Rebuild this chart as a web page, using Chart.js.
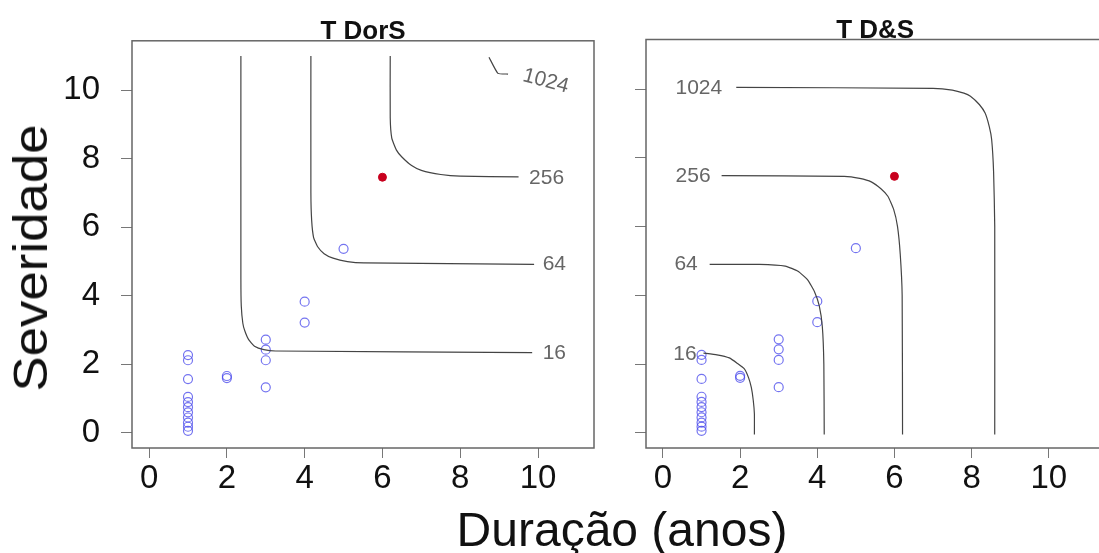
<!DOCTYPE html>
<html>
<head>
<meta charset="utf-8">
<script src="https://cdn.jsdelivr.net/npm/chart.js@4.4.1/dist/chart.umd.min.js"></script>
<style>
  html, body { margin: 0; padding: 0; background: #fff; overflow: hidden; }
  #wrap { position: relative; width: 1099px; height: 553px; overflow: hidden; font-family: "Liberation Sans", Arial, sans-serif; }
  #left { position: absolute; left: 0; top: 0; }
  #right { position: absolute; left: 600px; top: 0; }
  .ytitle { position: absolute; left: 31px; top: 258px; font-size: 48px; line-height: 1; color: #111; white-space: nowrap;
            transform: translate(-50%, -50%) rotate(-90deg) scaleX(1.1); }
  .xtitle { position: absolute; left: 622px; top: 506px; font-size: 48px; line-height: 1; color: #111; white-space: nowrap;
            transform: translateX(-50%); }
</style>
</head>
<body>
<div id="wrap">
  <canvas id="left" width="600" height="553"></canvas>
  <canvas id="right" width="510" height="553"></canvas>
  <div class="ytitle">Severidade</div>
  <div class="xtitle">Duração (anos)</div>
</div>
<script>
// observed points (duration in years, severity)
const durations = [1, 1, 1, 1, 1, 1, 1, 1, 1, 1, 1, 2, 2, 3, 3, 3, 3, 4, 4, 5];
const severities = [2.27, 2.12, 1.57, 1.05, 0.9, 0.75, 0.6, 0.45, 0.3, 0.18, 0.06, 1.66, 1.6, 2.72, 2.43, 2.12, 1.33, 3.83, 3.22, 5.37];
const eventX = [6];
const eventY = [7.46];

const tickValues = [0, 2, 4, 6, 8, 10];

// contours of "T DorS" (left panel)
const dors16 = [[2.36, 11], [2.36, 4.5], [2.37, 3.7], [2.41, 3.2], [2.46, 2.98], [2.56, 2.72], [2.71, 2.53], [2.95, 2.43], [3.25, 2.39], [9.85, 2.34]];
const dors64 = [[4.16, 11], [4.16, 7], [4.18, 6.2], [4.23, 5.7], [4.33, 5.44], [4.5, 5.23], [4.73, 5.1], [5.1, 5.0], [5.52, 4.96], [9.9, 4.92]];
const dors256 = [[6.2, 11], [6.2, 9.2], [6.24, 8.6], [6.36, 8.25], [6.5, 8.05], [6.75, 7.8], [7.0, 7.66], [7.5, 7.54], [8.0, 7.49], [9.5, 7.47]];
const dors1024 = [[8.74, 10.96], [8.97, 10.49], [9.23, 10.47]];
const dorsLabels = ['16', '64', '256', '1024'];
const dorsLabelX = [10.42, 10.42, 10.22, 10.2];
const dorsLabelY = [2.34, 4.92, 7.44, 10.26];
const dorsLabelRot = [0, 0, 0, 15];

// contours of "T D&S" (right panel)
const ds16 = [[1.05, 2.32], [1.4, 2.27], [1.72, 2.18], [1.93, 2.02], [2.11, 1.86], [2.22, 1.6], [2.29, 1.32], [2.34, 0.95], [2.37, 0.55], [2.37, -0.05]];
const ds64 = [[1.21, 4.9], [2.5, 4.9], [3.17, 4.85], [3.5, 4.7], [3.75, 4.45], [3.93, 4.1], [4.05, 3.7], [4.13, 3.1], [4.17, 2.0], [4.18, -0.05]];
const ds256 = [[1.52, 7.48], [4.7, 7.46], [5.1, 7.4], [5.4, 7.3], [5.65, 7.1], [5.83, 6.88], [5.98, 6.5], [6.08, 6.0], [6.15, 5.2], [6.2, 4.0], [6.21, -0.05]];
const ds1024 = [[1.9, 10.05], [7.0, 10.02], [7.5, 9.97], [7.8, 9.88], [7.97, 9.79], [8.2, 9.55], [8.35, 9.3], [8.46, 8.9], [8.52, 8.53], [8.57, 7.6], [8.6, 6], [8.6, -0.05]];
const dsLabels = ['16', '64', '256', '1024'];
const dsLabelX = [0.57, 0.6, 0.78, 0.93];
const dsLabelY = [2.28, 4.9, 7.46, 10.03];
const dsLabelRot = [0, 0, 0, 0];

const FONT = '"Liberation Sans", Arial, sans-serif';
const AXIS_MIN = -0.44;
const AXIS_MAX = 11.44;

function toPoints(pairs) {
  return pairs.map(([x, y]) => ({ x, y }));
}

function contourDataset(pairs) {
  return {
    data: toPoints(pairs),
    showLine: true,
    borderColor: '#444',
    borderWidth: 1.2,
    pointRadius: 0,
    tension: 0.15,
    fill: false
  };
}

function pointDatasets() {
  return [
    {
      data: durations.map((d, i) => ({ x: d, y: severities[i] })),
      backgroundColor: 'rgba(0,0,0,0)',
      borderColor: 'rgba(70, 70, 235, 0.75)',
      borderWidth: 1.2,
      pointRadius: 4.5
    },
    {
      data: eventX.map((d, i) => ({ x: d, y: eventY[i] })),
      backgroundColor: '#c8001e',
      borderColor: '#c8001e',
      borderWidth: 1,
      pointRadius: 4
    }
  ];
}

const panelDeco = {
  id: 'panelDeco',
  afterDraw(chart, args, opts) {
    const { ctx, chartArea } = chart;
    const xs = chart.scales.x;
    const ys = chart.scales.y;
    ctx.save();
    ctx.strokeStyle = '#666';
    ctx.lineWidth = 1.5;
    ctx.strokeRect(chartArea.left, chartArea.top, chartArea.right - chartArea.left, chartArea.bottom - chartArea.top);

    ctx.fillStyle = '#111';
    ctx.font = 'bold 26px ' + FONT;
    ctx.textAlign = 'center';
    ctx.textBaseline = 'alphabetic';
    ctx.fillText(opts.title, (chartArea.left + chartArea.right) / 2, chartArea.top - 2);

    ctx.fillStyle = '#666';
    ctx.font = '21px ' + FONT;
    ctx.textBaseline = 'middle';
    opts.labels.forEach((text, i) => {
      ctx.save();
      ctx.translate(xs.getPixelForValue(opts.labelX[i]), ys.getPixelForValue(opts.labelY[i]));
      ctx.rotate(opts.labelRot[i] * Math.PI / 180);
      ctx.fillText(text, 0, 0);
      ctx.restore();
    });
    ctx.restore();
  }
};

function buildPanel(canvas, cfg) {
  return new Chart(canvas.getContext('2d'), {
    type: 'scatter',
    data: {
      datasets: cfg.contours.map(contourDataset).concat(pointDatasets())
    },
    options: {
      responsive: false,
      animation: false,
      layout: { padding: { top: 39.5, right: cfg.padRight, left: 0, bottom: 0 } },
      plugins: {
        legend: { display: false },
        tooltip: { enabled: false },
        panelDeco: {
          title: cfg.title,
          labels: cfg.labels,
          labelX: cfg.labelX,
          labelY: cfg.labelY,
          labelRot: cfg.labelRot
        }
      },
      scales: {
        x: {
          type: 'linear',
          min: AXIS_MIN,
          max: AXIS_MAX,
          afterFit(scale) { scale.height = 105; },
          afterBuildTicks(scale) { scale.ticks = tickValues.map(v => ({ value: v })); },
          ticks: { font: { size: 33, family: FONT }, color: '#111', padding: 1, maxRotation: 0, autoSkip: false },
          grid: { drawOnChartArea: false, drawTicks: true, tickLength: 10, color: '#777', lineWidth: 1 },
          border: { display: false }
        },
        y: {
          type: 'linear',
          min: AXIS_MIN,
          max: AXIS_MAX,
          afterFit(scale) { scale.width = cfg.yWidth; },
          afterBuildTicks(scale) { scale.ticks = tickValues.map(v => ({ value: v })); },
          ticks: { display: cfg.showYLabels, font: { size: 33, family: FONT }, color: '#111', padding: 21 },
          grid: { drawOnChartArea: false, drawTicks: true, tickLength: 11, color: '#777', lineWidth: 1 },
          border: { display: false }
        }
      }
    },
    plugins: [panelDeco]
  });
}

buildPanel(document.getElementById('left'), {
  title: 'T DorS',
  contours: [dors16, dors64, dors256, dors1024],
  labels: dorsLabels,
  labelX: dorsLabelX,
  labelY: dorsLabelY,
  labelRot: dorsLabelRot,
  yWidth: 132,
  padRight: 6,
  showYLabels: true
});

buildPanel(document.getElementById('right'), {
  title: 'T D&S',
  contours: [ds16, ds64, ds256, ds1024],
  labels: dsLabels,
  labelX: dsLabelX,
  labelY: dsLabelY,
  labelRot: dsLabelRot,
  yWidth: 46,
  padRight: 2,
  showYLabels: false
});
</script>
</body>
</html>
